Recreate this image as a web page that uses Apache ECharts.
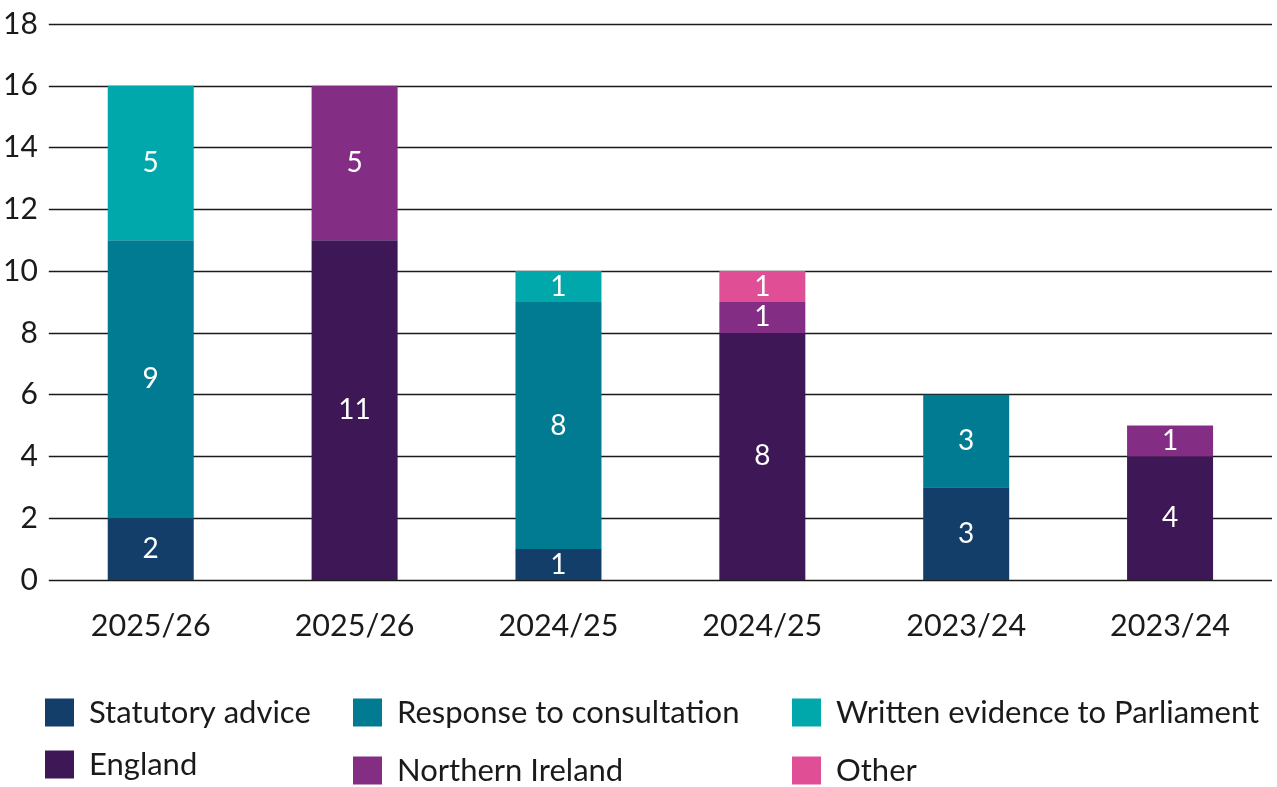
<!DOCTYPE html>
<html>
<head>
<meta charset="utf-8">
<style>
  html, body { margin: 0; padding: 0; background: #ffffff; }
  #chart { width: 1277px; height: 787px; }
</style>
<script src="https://cdn.jsdelivr.net/npm/echarts@6/dist/echarts.min.js"></script>
</head>
<body>
<div id="chart"></div>
<script>
// Publications by type (left bar of each year) and by nation (right bar of each year)
const categories = ['2025/26', '2025/26', '2024/25', '2024/25', '2023/24', '2023/24'];

const statutoryAdvice   = [2, '-', 1, '-', 3, '-'];
const consultation      = [9, '-', 8, '-', 3, '-'];
const writtenEvidence   = [5, '-', 1, '-', '-', '-'];
const england           = ['-', 11, '-', 8, '-', 4];
const northernIreland   = ['-', 5, '-', 1, '-', 1];
const other             = ['-', '-', '-', 1, '-', '-'];

const yTicks = { min: 0, max: 18, interval: 2 };

const FONT = 'Lato, "Open Sans", sans-serif';
const TEXT = '#1a1a1a';

const seriesDefs = [
  { name: 'Statutory advice', data: statutoryAdvice, color: '#143e6a' },
  { name: 'Response to consultation', data: consultation, color: '#007b91' },
  { name: 'Written evidence to Parliament', data: writtenEvidence, color: '#00a8ab' },
  { name: 'England', data: england, color: '#3d1756' },
  { name: 'Northern Ireland', data: northernIreland, color: '#832e84' },
  { name: 'Other', data: other, color: '#e04e96' }
];

// one legend block per entry so the two-row layout can be placed freely
const legendSpots = [
  { left: 45, top: 697 },
  { left: 353, top: 697 },
  { left: 792, top: 697 },
  { left: 45, top: 749 },
  { left: 353, top: 755 },
  { left: 792, top: 755 }
];

const chart = echarts.init(document.getElementById('chart'), null, { renderer: 'canvas' });

chart.setOption({
  animation: false,
  backgroundColor: '#ffffff',
  textStyle: { fontFamily: FONT },
  grid: { left: 46, right: 5, top: 24, bottom: 207, containLabel: false },
  legend: seriesDefs.map((s, i) => ({
    data: [s.name],
    left: legendSpots[i].left,
    top: legendSpots[i].top,
    padding: 0,
    itemWidth: 29,
    itemHeight: 28,
    icon: 'rect',
    selectedMode: false,
    textStyle: { fontFamily: FONT, fontSize: 31, color: TEXT, padding: [0, 0, 0, 10] }
  })),
  xAxis: {
    type: 'category',
    data: categories,
    axisLine: { show: false },
    axisTick: { show: false },
    axisLabel: { color: TEXT, fontSize: 30.5, fontFamily: FONT, margin: 31, interval: 0 }
  },
  yAxis: {
    type: 'value',
    min: yTicks.min,
    max: yTicks.max,
    interval: yTicks.interval,
    axisLine: { show: false },
    axisTick: { show: false },
    axisLabel: { color: TEXT, fontSize: 30, fontFamily: FONT, margin: 11 },
    splitLine: { lineStyle: { color: '#1a1a1a', width: 1.4 } }
  },
  series: seriesDefs.map(s => ({
    name: s.name,
    type: 'bar',
    stack: 'total',
    barWidth: 86,
    data: s.data,
    itemStyle: { color: s.color },
    label: {
      show: true,
      position: 'inside',
      color: '#ffffff',
      fontSize: 28,
      fontFamily: FONT
    }
  }))
});
</script>
</body>
</html>
